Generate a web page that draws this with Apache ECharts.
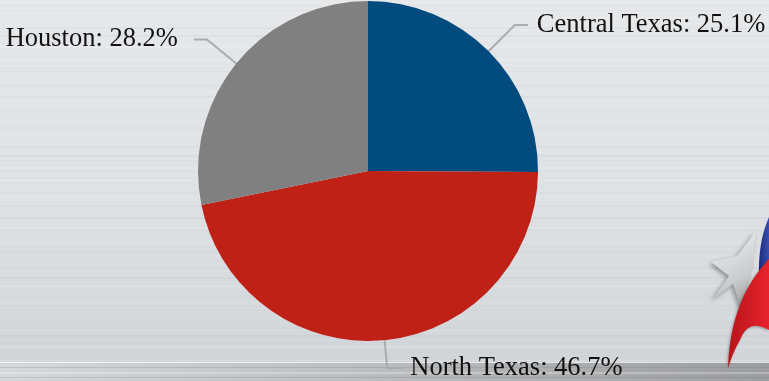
<!DOCTYPE html>
<html>
<head>
<meta charset="utf-8">
<title>Regional share</title>
<script src="https://cdn.jsdelivr.net/npm/echarts@6/dist/echarts.min.js"></script>
<style>
  html, body { margin: 0; padding: 0; background: #e0e3e6; }
  #chart { width: 769px; height: 381px; }
</style>
</head>
<body>
<div id="chart"></div>
<script>
// Regions and their share of the total (percent)
const regions = ['Central Texas', 'North Texas', 'Houston'];
const shares = [25.1, 46.7, 28.2];
const sliceColors = ['#024b7f', '#c02117', '#808080'];

// Label leader-line lengths and label gaps per slice
const leadLengths = [[37, 13], [28, 15], [38, 13]];
const labelGaps = [9, 8, 16];

const W = 769, H = 381;

// Points along a quadratic curve, used to outline the logo swooshes
function quad(p0, c, p1, n) {
  const pts = [];
  for (let k = 0; k <= n; k++) {
    const t = k / n, u = 1 - t;
    pts.push([u * u * p0[0] + 2 * u * t * c[0] + t * t * p1[0],
              u * u * p0[1] + 2 * u * t * c[1] + t * t * p1[1]]);
  }
  return pts;
}

// Brushed-metal style horizontal stripes for the backdrop
function stripes() {
  const els = [];
  const pattern = [0.35, 0.15, 0.5, 0.2, 0.05, 0.4, 0.25, 0.6, 0.1, 0.3, 0.45, 0.18];
  let y = 2, i = 0;
  while (y < 362) {
    const a = pattern[i % pattern.length];
    const light = (i % 3 === 0);
    els.push({
      type: 'rect', silent: true,
      shape: { x: 0, y: y, width: W, height: 1 + (i % 2) },
      style: { fill: light ? 'rgba(255,255,255,' + (a * 0.45) + ')' : 'rgba(150,158,168,' + (a * 0.14) + ')' }
    });
    y += 3 + (i * 7) % 5;
    i++;
  }
  return els;
}

const blueOutline = quad([759, 276], [758, 242], [769, 217], 16)
  .concat(quad([769, 262], [763, 266], [759, 276], 6));
const redOutline = quad([728, 368], [730, 300], [769, 259], 20)
  .concat([[769, 330]])
  .concat(quad([769, 330], [748, 318], [740, 340], 8))
  .concat(quad([740, 340], [733, 352], [728, 368], 6));

const backdrop = [
  {
    type: 'rect', silent: true,
    shape: { x: 0, y: 0, width: W, height: H },
    style: {
      fill: new echarts.graphic.LinearGradient(0, 0, 0, 1, [
        { offset: 0, color: '#e6e8ea' },
        { offset: 0.5, color: '#dfe2e5' },
        { offset: 0.93, color: '#d2d6da' },
        { offset: 1, color: '#d0d4d8' }
      ])
    }
  },
  ...stripes(),
  // floor band along the bottom
  {
    type: 'rect', silent: true,
    shape: { x: 0, y: 362, width: W, height: 19 },
    style: {
      fill: new echarts.graphic.LinearGradient(0, 0, 1, 0, [
        { offset: 0, color: '#d6d8da' },
        { offset: 0.45, color: '#bdbfc1' },
        { offset: 1, color: '#9c9d9f' }
      ])
    }
  },
  { type: 'rect', silent: true, shape: { x: 0, y: 362, width: W, height: 1 }, style: { fill: 'rgba(255,255,255,0.7)' } },
  { type: 'rect', silent: true, shape: { x: 0, y: 367, width: W, height: 1 }, style: { fill: 'rgba(120,120,120,0.25)' } },
  { type: 'rect', silent: true, shape: { x: 0, y: 372, width: W, height: 2 }, style: { fill: 'rgba(255,255,255,0.25)' } },
  { type: 'rect', silent: true, shape: { x: 0, y: 377, width: W, height: 1 }, style: { fill: 'rgba(100,100,100,0.2)' } },
  // logo: silver star
  {
    type: 'polygon', silent: true,
    shape: { points: [[711, 262], [737, 256], [756, 231], [752, 268], [742, 311], [733, 284], [712, 300], [729, 276]] },
    style: {
      fill: new echarts.graphic.LinearGradient(0, 0, 1, 1, [
        { offset: 0, color: '#f2f3f4' },
        { offset: 0.6, color: '#c9cbcd' },
        { offset: 1, color: '#8e9092' }
      ]),
      shadowBlur: 4, shadowColor: 'rgba(0,0,0,0.35)', shadowOffsetX: -2, shadowOffsetY: 2
    }
  },
  // logo: blue swoosh
  {
    type: 'polygon', silent: true,
    shape: { points: blueOutline },
    style: {
      fill: new echarts.graphic.LinearGradient(0, 0, 1, 0, [
        { offset: 0, color: '#1c2a78' },
        { offset: 1, color: '#3b4fb0' }
      ])
    }
  },
  // logo: red swoosh
  {
    type: 'polygon', silent: true,
    shape: { points: redOutline },
    style: {
      fill: new echarts.graphic.LinearGradient(0, 0, 1, 0, [
        { offset: 0, color: '#b5141c' },
        { offset: 1, color: '#e8232b' }
      ]),
      shadowBlur: 3, shadowColor: 'rgba(0,0,0,0.3)', shadowOffsetX: -1, shadowOffsetY: 1
    }
  }
];

const chart = echarts.init(document.getElementById('chart'), null, { renderer: 'canvas' });

chart.setOption({
  backgroundColor: 'transparent',
  animation: false,
  graphic: { elements: backdrop },
  series: [{
    type: 'pie',
    center: [368, 171],
    radius: 170,
    startAngle: 90,
    clockwise: true,
    avoidLabelOverlap: false,
    left: 0, top: 0, right: 0, bottom: 0,
    data: regions.map((name, i) => ({
      name: name,
      value: shares[i],
      itemStyle: { color: sliceColors[i] },
      label: { distanceToLabelLine: labelGaps[i] },
      labelLine: { length: leadLengths[i][0], length2: leadLengths[i][1] }
    })),
    label: {
      show: true,
      position: 'outside',
      formatter: p => p.name + ': ' + p.value.toFixed(1) + '%',
      fontFamily: '"Liberation Serif", "DejaVu Serif", serif',
      fontSize: 26.5,
      color: '#111111',
      bleedMargin: 0,
      overflow: 'none'
    },
    labelLine: {
      show: true,
      smooth: false,
      lineStyle: { color: '#a9adb1', width: 2 }
    },
    emphasis: { disabled: true }
  }]
});
</script>
</body>
</html>
